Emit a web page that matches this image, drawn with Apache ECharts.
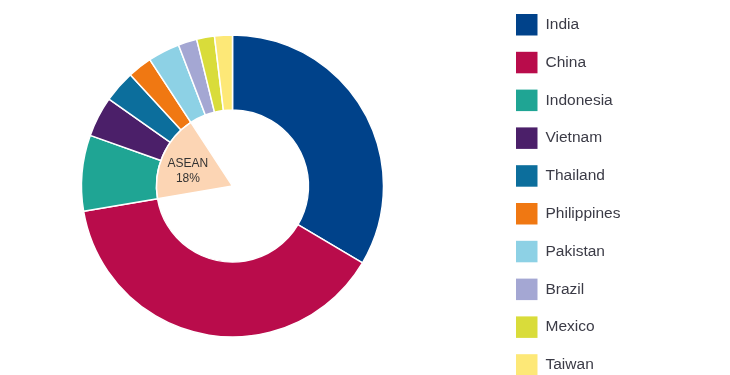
<!DOCTYPE html>
<html>
<head>
<meta charset="utf-8">
<script src="https://cdn.jsdelivr.net/npm/echarts@6/dist/echarts.min.js"></script>
<style>
  html, body { margin: 0; padding: 0; background: #ffffff; }
  #chart { width: 730px; height: 375px; }
</style>
</head>
<body>
<div id="chart"></div>
<script>
// Data (share of total, %)
var countries = ['India', 'China', 'Indonesia', 'Vietnam', 'Thailand', 'Philippines', 'Pakistan', 'Brazil', 'Mexico', 'Taiwan'];
var shares = [33.4, 38.7, 8.1, 4.3, 3.4, 2.6, 3.4, 2.0, 1.9, 1.9];
var colors = ['#00428a', '#b90c4b', '#1fa594', '#4b1f69', '#0c6e9c', '#f07812', '#8dd1e5', '#a4a7d3', '#d9dc3a', '#fde877'];
var aseanMembers = ['Indonesia', 'Vietnam', 'Thailand', 'Philippines'];
var aseanLabel = 'ASEAN';
var aseanColor = '#fcd5b4';

var FONT = '"Liberation Sans", Arial, Helvetica, sans-serif';

var ringData = countries.map(function (c, i) {
  return { name: c, value: shares[i], itemStyle: { color: colors[i] } };
});

// inner wedge: before ASEAN / ASEAN / after ASEAN
var firstIdx = countries.indexOf(aseanMembers[0]);
var lastIdx = countries.indexOf(aseanMembers[aseanMembers.length - 1]);
var sumRange = function (a, b) { var s = 0; for (var i = a; i <= b; i++) s += shares[i]; return s; };
var total = sumRange(0, countries.length - 1);
var aseanValue = sumRange(firstIdx, lastIdx);
var blank = { color: 'rgba(0,0,0,0)', borderWidth: 0 };
var innerData = [
  { name: '_before', value: sumRange(0, firstIdx - 1), itemStyle: blank, label: { show: false } },
  { name: aseanLabel, value: aseanValue, itemStyle: { color: aseanColor, borderColor: '#ffffff', borderWidth: 1.5 } },
  { name: '_after', value: sumRange(lastIdx + 1, countries.length - 1), itemStyle: blank, label: { show: false } }
];

var chart = echarts.init(document.getElementById('chart'), null, { renderer: 'canvas' });
chart.setOption({
  animation: false,
  backgroundColor: '#ffffff',
  legend: {
    data: countries,
    orient: 'vertical',
    left: 516,
    top: 14,
    height: 400,
    padding: 0,
    itemWidth: 21.5,
    itemHeight: 21.5,
    itemGap: 16.3,
    icon: 'rect',
    selectedMode: false,
    itemStyle: { borderWidth: 0 },
    textStyle: { fontFamily: FONT, fontSize: 15.5, color: '#3b3b46', padding: [0, 0, 0, 3] }
  },
  series: [
    {
      type: 'pie',
      center: [232.5, 186],
      radius: [76, 151],
      startAngle: 90,
      clockwise: true,
      avoidLabelOverlap: false,
      label: { show: false },
      labelLine: { show: false },
      itemStyle: { borderColor: '#ffffff', borderWidth: 1.5 },
      emphasis: { disabled: true },
      data: ringData
    },
    {
      type: 'pie',
      center: [232.5, 186],
      radius: [0, 76],
      startAngle: 90,
      clockwise: true,
      silent: true,
      label: {
        show: true,
        position: 'inside',
        formatter: function (p) {
          return p.name + '\n' + Math.round(p.value / total * 100) + '%';
        },
        fontFamily: FONT,
        fontSize: 12,
        lineHeight: 15,
        color: '#333333'
      },
      labelLayout: { dx: -7, dy: 1.5 },
      labelLine: { show: false },
      emphasis: { disabled: true },
      data: innerData
    }
  ]
});
</script>
</body>
</html>
